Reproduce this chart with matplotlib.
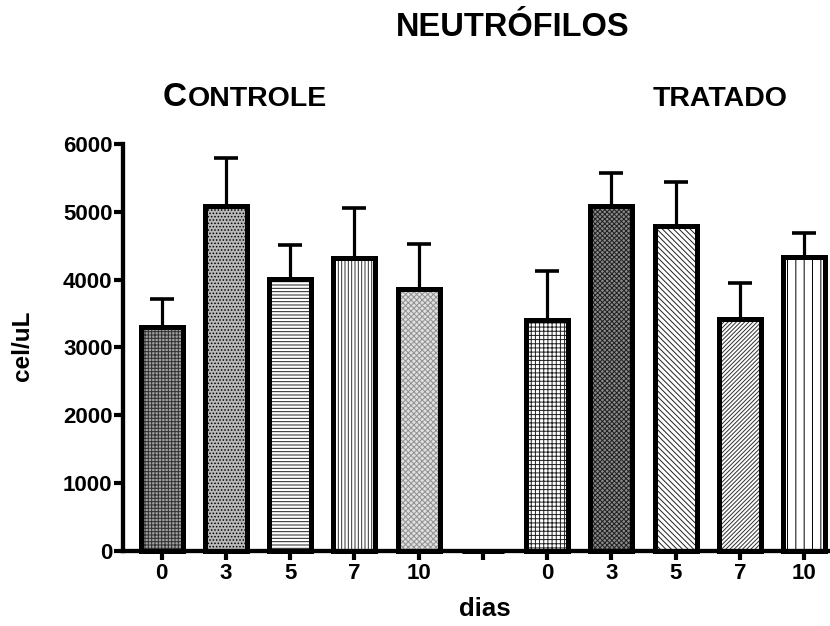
import numpy as np
import matplotlib
matplotlib.use('Agg')
import matplotlib.pyplot as plt

plt.rcParams['font.family'] = ['Liberation Sans', 'DejaVu Sans']
plt.rcParams['font.weight'] = 'bold'
plt.rcParams['hatch.linewidth'] = 0.7

# neutrofilos (cel/uL), media e EPM por dia
dias = ['0', '3', '5', '7', '10']
controle_media = [3305, 5080, 4005, 4320, 3860]
controle_epm = [405, 710, 505, 730, 670]
tratado_media = [3405, 5080, 4785, 3425, 4330]
tratado_epm = [720, 485, 650, 525, 365]

# padroes de preenchimento: (cor de fundo, hachura, cor da hachura)
estilos_controle = [('#a0a0a0', '+++++', '#303030'),
                    ('#b8b8b8', '.....', 'black'),
                    ('white', '-----', '#202020'),
                    ('white', '|||||', '#303030'),
                    ('#e0e0e0', 'xxxxxx', '#909090')]
estilos_tratado = [('white', '++++', '#202020'),
                   ('#8a8a8a', 'xxxxxxx', '#202020'),
                   ('white', '\\\\\\\\\\\\', '#202020'),
                   ('white', '////////', '#303030'),
                   ('white', '||', 'black')]

medias = controle_media + [0] + tratado_media
epm = controle_epm + [0] + tratado_epm
estilos = estilos_controle + [('white', '', 'black')] + estilos_tratado
rotulos = dias + [''] + dias
x = np.arange(len(medias))
largura = 0.653

fig = plt.figure(figsize=(8.3, 6.26), dpi=100)
ax = fig.add_axes([0.1482, 0.1198, 0.8518, 0.6502])

ax.errorbar(x, medias, yerr=[np.zeros(len(epm)), epm], fmt='none',
            ecolor='black', elinewidth=2.3, capsize=8.3, capthick=2.6, zorder=1)
for xi, m, (cor, hach, hcor) in zip(x, medias, estilos):
    ax.bar(xi, m, largura, color=cor, hatch=hach, edgecolor=hcor,
           linewidth=0, zorder=2)
    ax.bar(xi, m, largura, fill=False, edgecolor='black', linewidth=3.6,
           joinstyle='miter', zorder=3, clip_on=False)

ax.set_xlim(-0.6, 10.4)
ax.set_ylim(0, 6000)
ax.set_yticks(np.arange(0, 6001, 1000))
ax.set_xticks(x)
ax.set_xticklabels(rotulos)

for lado in ['top', 'right']:
    ax.spines[lado].set_visible(False)
for lado in ['left', 'bottom']:
    ax.spines[lado].set_linewidth(3.1)
    ax.spines[lado].set_zorder(4)
ax.tick_params(axis='both', width=3, length=6.5, labelsize=16)
ax.tick_params(axis='y', pad=1)
ax.tick_params(axis='x', pad=2)

fig.text(484.5 / 830, 1 - 609 / 626, 'dias', fontsize=18.5, ha='center', va='center')
fig.text(22 / 830, 1 - 346 / 626, 'cel/uL', fontsize=17.5, rotation=90,
         ha='center', va='center')

fig.text(513 / 830, 1 - 36 / 626, 'NEUTRÓFILOS', fontsize=23.5, ha='center', va='baseline')
fig.text(163 / 830, 1 - 106 / 626, 'C', fontsize=24, ha='left', va='baseline')
fig.text(188 / 830, 1 - 106 / 626, 'ONTROLE', fontsize=20.5, ha='left', va='baseline')
fig.text(720 / 830, 1 - 106 / 626, 'TRATADO', fontsize=20.5, ha='center', va='baseline')

fig.savefig('out.png', dpi=100)
